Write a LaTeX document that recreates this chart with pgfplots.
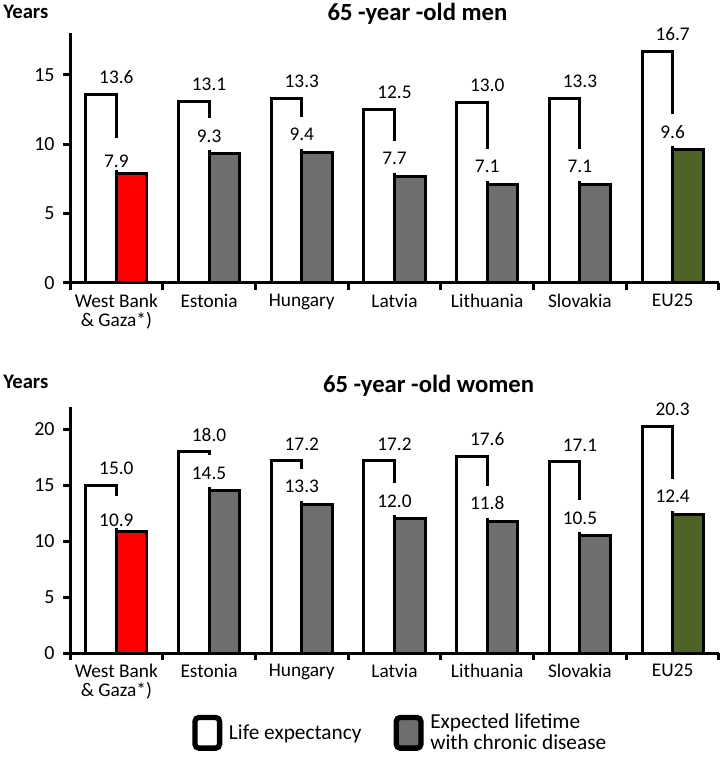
\documentclass[border=0pt]{standalone}
\usepackage{fontspec}
\setmainfont{Carlito}
\usepackage{pgfplots}
\pgfplotsset{compat=1.18}

\definecolor{barred}{RGB}{255,0,0}
\definecolor{bargray}{RGB}{110,110,110}
\definecolor{bargreen}{RGB}{79,98,40}

\tikzset{lbl/.style={font=\fontsize{14.5}{16}\selectfont}}

\pgfplotsset{
  mybase/.style={
    scale only axis, width=486.75pt,
    xmin=-0.5, xmax=6.5, ymin=0,
    axis x line*=bottom, axis y line*=left,
    axis line style={-, line width=2.25pt, black},
    xtick={0,...,6},
    xticklabels={{West Bank\\\& Gaza*)},Estonia,Hungary,Latvia,Lithuania,Slovakia,EU25},
    major x tick style={draw=none},
    minor xtick={-0.5,0.5,...,6.5},
    minor x tick style={line width=2.25pt, black},
    y tick style={line width=2.25pt, black},
    tick align=outside,
    major tick length=5pt, minor tick length=5pt,
    xticklabel style={align=center, font=\fontsize{14.5}{14}\selectfont},
    yticklabel style={font=\fontsize{15}{16}\selectfont, xshift=-3pt},
    /pgf/number format/assume math mode=true,
    clip=false,
  },
  mylegend/.style={legend image code/.code={\draw[##1, line width=4pt, rounded corners=3pt] (0pt,-11.5pt) rectangle (18.5pt,11.5pt);}},
  whitebar/.style={ybar, bar width=0.33, bar shift=-0.165, fill=white, draw=black, line width=2.25pt,
    nodes near coords={\pgfmathprintnumber[fixed,fixed zerofill,precision=1,assume math mode=true]{\pgfplotspointmeta}},
    every node near coord/.append style={lbl, anchor=base, yshift=8pt}, mylegend},
  colbar/.style n args={3}{ybar, bar width=0.33, bar shift=0.165, fill=#1, draw=black, line width=2.25pt,
    nodes near coords={\pgfmathprintnumber[fixed,fixed zerofill,precision=1,assume math mode=true]{\pgfplotspointmeta}},
    every node near coord/.append style={lbl, anchor=south, yshift=1.5pt, fill=white, inner xsep=3.5pt, inner ysep=0pt, text height=#2, text depth=#3}, mylegend},
}

\begin{document}
\begin{tikzpicture}
\useasboundingbox (0,0) rectangle (545.25pt,569.25pt);

% ---------- top panel: men ----------
\begin{axis}[mybase, height=187.5pt, ymax=18, ytick={0,5,10,15},
  at={(52.5pt,357pt)}, anchor=south west]
\addplot[whitebar] coordinates {(0,13.6) (1,13.1) (2,13.3) (3,12.5) (4,13.0) (5,13.3) (6,16.7)};
\addplot[colbar={bargray}{18pt}{6pt}] coordinates {(1,9.3) (2,9.4) (3,7.7) (4,7.1) (5,7.1)};
\addplot[colbar={barred}{22pt}{2pt}] coordinates {(0,7.9)};
\addplot[colbar={bargreen}{18pt}{6pt}] coordinates {(6,9.6)};
\end{axis}

% ---------- bottom panel: women ----------
\begin{axis}[mybase, height=184.5pt, ymax=22, ytick={0,5,...,20},
  at={(52.5pt,79.5pt)}, anchor=south west,
  legend style={at={(0.188,-0.235)}, anchor=north west, draw=none, fill=none,
    legend columns=2, inner sep=0pt, font=\fontsize{16}{16}\selectfont,
    cells={align=left, anchor=west},
    /tikz/every odd column/.append style={column sep=3pt},
    /tikz/every even column/.append style={column sep=22pt}}]
\addplot[whitebar] coordinates {(0,15.0) (1,18.0) (2,17.2) (3,17.2) (4,17.6) (5,17.1) (6,20.3)};
\addlegendentry{Life expectancy}
\addplot[colbar={bargray}{18pt}{6pt}] coordinates {(1,14.5) (2,13.3) (3,12.0) (4,11.8) (5,10.5)};
\addlegendentry{Expected lifetime\\with chronic disease}
\addplot[colbar={barred}{23pt}{1pt}, forget plot] coordinates {(0,10.9)};
\addplot[colbar={bargreen}{18pt}{6pt}, forget plot] coordinates {(6,12.4)};
\end{axis}

% ---------- titles and axis names ----------
\node[anchor=base, font=\bfseries\fontsize{18.5}{20}\selectfont] at (313.1pt,553.5pt) {65 -year -old men};
\node[anchor=base, font=\bfseries\fontsize{18.5}{20}\selectfont] at (321.4pt,274.5pt) {65 -year -old women};
\node[anchor=base west, inner sep=0pt, font=\bfseries\fontsize{15.5}{16}\selectfont] at (2.25pt,555.5pt) {Years};
\node[anchor=base west, inner sep=0pt, font=\bfseries\fontsize{15.5}{16}\selectfont] at (2.25pt,277.5pt) {Years};
\end{tikzpicture}
\end{document}
